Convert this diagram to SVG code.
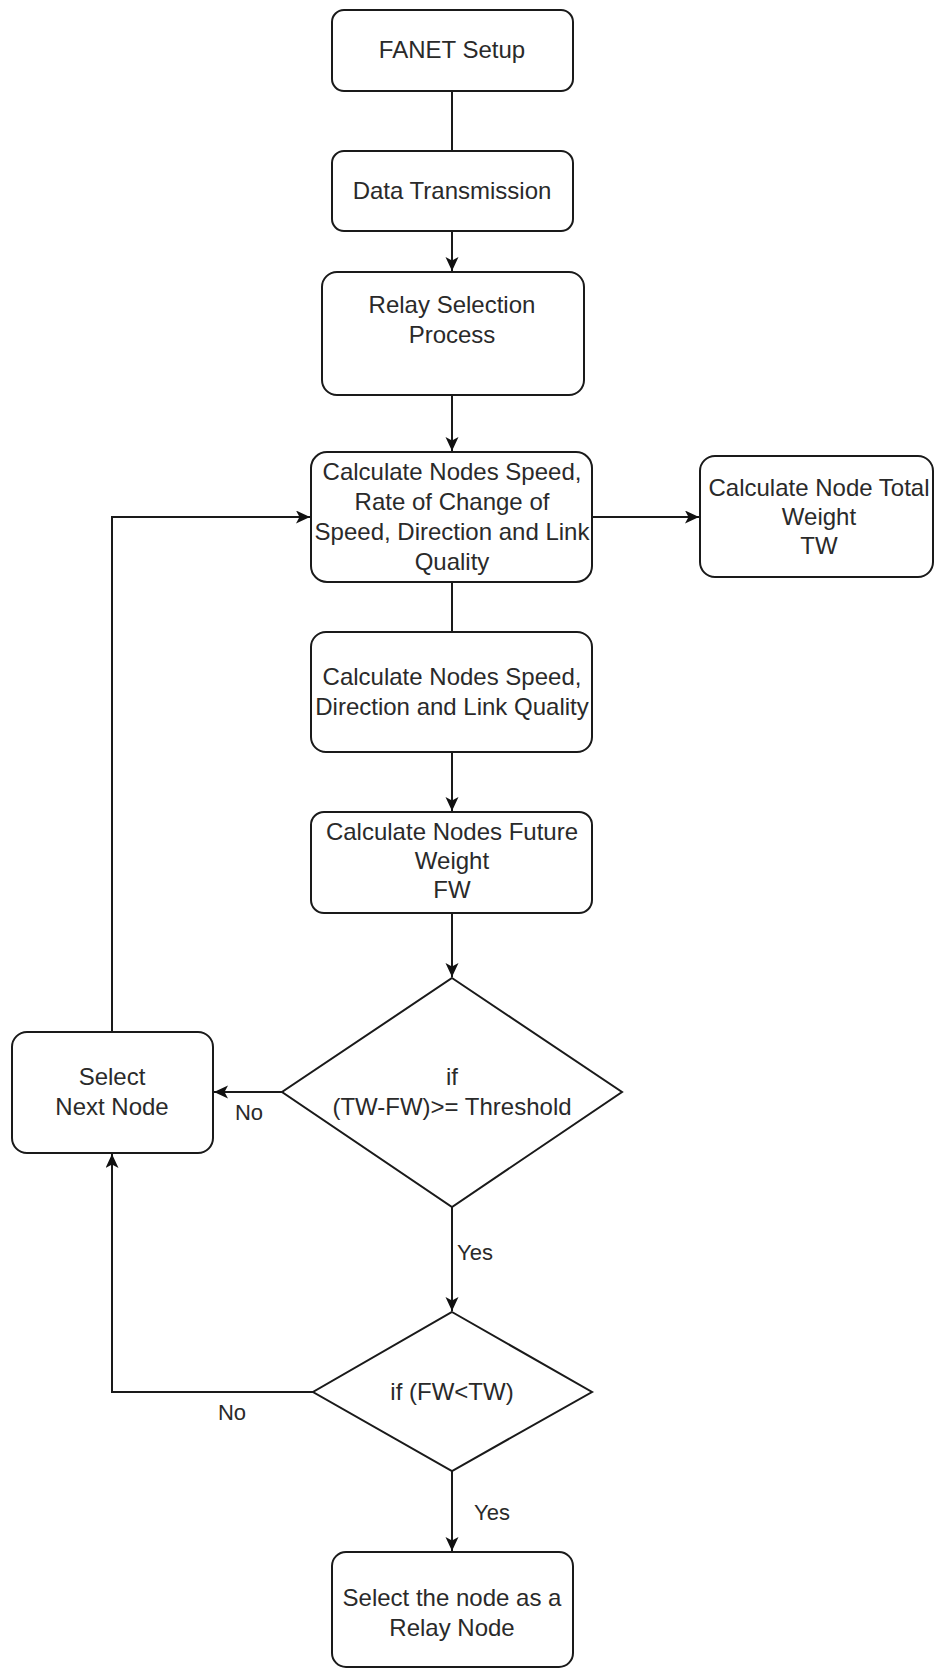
<svg xmlns="http://www.w3.org/2000/svg" width="935" height="1669" viewBox="0 0 935 1669">
<style>
.box{fill:#fff;stroke:#1a1a1a;stroke-width:2}
.t{font-family:"Liberation Sans",Arial,sans-serif;font-size:24px;fill:#2a2a2a;text-anchor:middle}
.lbl{font-family:"Liberation Sans",Arial,sans-serif;font-size:22px;fill:#2a2a2a}
.c{fill:none;stroke:#1a1a1a;stroke-width:2}
</style>
<defs>
<marker id="arr" markerUnits="userSpaceOnUse" markerWidth="15" markerHeight="14" refX="14" refY="6.5" orient="auto">
<path d="M0,0 L14,6.5 L0,13 L3.5,6.5 z" fill="#111"/>
</marker>
</defs>
<rect width="935" height="1669" fill="#fff"/>
<g id="connectors">
<path class="c" d="M452,91 V151"/>
<path class="c" d="M452,231 V271" marker-end="url(#arr)"/>
<path class="c" d="M452,395 V451" marker-end="url(#arr)"/>
<path class="c" d="M592,517 H699" marker-end="url(#arr)"/>
<path class="c" d="M452,582 V632"/>
<path class="c" d="M452,752 V811" marker-end="url(#arr)"/>
<path class="c" d="M452,913 V977" marker-end="url(#arr)"/>
<path class="c" d="M282,1092 H214" marker-end="url(#arr)"/>
<path class="c" d="M112,1032 V517 H310" marker-end="url(#arr)"/>
<path class="c" d="M452,1207 V1311" marker-end="url(#arr)"/>
<path class="c" d="M313,1392 H112 V1154" marker-end="url(#arr)"/>
<path class="c" d="M452,1471 V1551" marker-end="url(#arr)"/>
<text class="lbl" x="249" y="1120" text-anchor="middle">No</text>
<text class="lbl" x="457" y="1260">Yes</text>
<text class="lbl" x="232" y="1420" text-anchor="middle">No</text>
<text class="lbl" x="474" y="1520">Yes</text>
</g>
<g id="fanet-setup">
<rect class="box" x="332" y="10" width="241" height="81" rx="12"/>
<text class="t" x="452" y="58">FANET Setup</text>
</g>
<g id="data-transmission">
<rect class="box" x="332" y="151" width="241" height="80" rx="12"/>
<text class="t" x="452" y="199">Data Transmission</text>
</g>
<g id="relay-selection">
<rect class="box" x="322" y="272" width="262" height="123" rx="15"/>
<text class="t" x="452" y="313">Relay Selection</text>
<text class="t" x="452" y="343">Process</text>
</g>
<g id="calc-speed-rate">
<rect class="box" x="311" y="452" width="281" height="130" rx="16"/>
<text class="t" x="452" y="480">Calculate Nodes Speed,</text>
<text class="t" x="452" y="510">Rate of Change of</text>
<text class="t" x="452" y="540">Speed, Direction and Link</text>
<text class="t" x="452" y="570">Quality</text>
</g>
<g id="calc-total-weight">
<rect class="box" x="700" y="456" width="233" height="121" rx="15"/>
<text class="t" x="819" y="496">Calculate Node Total</text>
<text class="t" x="819" y="525">Weight</text>
<text class="t" x="819" y="554">TW</text>
</g>
<g id="calc-speed-direction">
<rect class="box" x="311" y="632" width="281" height="120" rx="15"/>
<text class="t" x="452" y="685">Calculate Nodes Speed,</text>
<text class="t" x="452" y="715">Direction and Link Quality</text>
</g>
<g id="calc-future-weight">
<rect class="box" x="311" y="812" width="281" height="101" rx="13"/>
<text class="t" x="452" y="840">Calculate Nodes Future</text>
<text class="t" x="452" y="869">Weight</text>
<text class="t" x="452" y="898">FW</text>
</g>
<g id="threshold-decision">
<polygon class="box" points="452,978 622,1092 452,1207 282,1092"/>
<text class="t" x="452" y="1085">if</text>
<text class="t" x="452" y="1115">(TW-FW)&gt;= Threshold</text>
</g>
<g id="select-next-node">
<rect class="box" x="12" y="1032" width="201" height="121" rx="15"/>
<text class="t" x="112" y="1085">Select</text>
<text class="t" x="112" y="1115">Next Node</text>
</g>
<g id="fw-tw-decision">
<polygon class="box" points="452,1312 592,1392 452,1471 313,1392"/>
<text class="t" x="452" y="1400">if (FW&lt;TW)</text>
</g>
<g id="select-relay-node">
<rect class="box" x="332" y="1552" width="241" height="115" rx="14"/>
<text class="t" x="452" y="1606">Select the node as a</text>
<text class="t" x="452" y="1636">Relay Node</text>
</g>
</svg>
